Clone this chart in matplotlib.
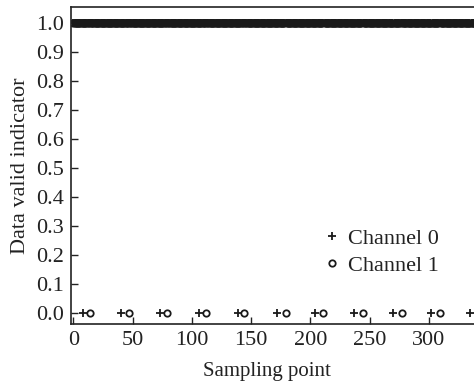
import numpy as np
import matplotlib
matplotlib.use("Agg")
import matplotlib.pyplot as plt

# sampling window and the samples flagged invalid on each channel
n_samples = 340
ch0_invalid = [8, 40, 73, 106, 139, 172, 204, 237, 270, 302, 335]
ch1_invalid = [14, 47, 79, 112, 144, 179, 211, 244, 277, 309]

x_ticks = [0, 50, 100, 150, 200, 250, 300]
y_ticks = [0.0, 0.1, 0.2, 0.3, 0.4, 0.5, 0.6, 0.7, 0.8, 0.9, 1.0]

samples = np.arange(n_samples)
ch0_valid = np.ones(n_samples)
ch0_valid[ch0_invalid] = 0
ch1_valid = np.ones(n_samples)
ch1_valid[ch1_invalid] = 0

plt.rcParams['font.family'] = ['Liberation Serif', 'DejaVu Serif']
plt.rcParams['font.size'] = 16
plt.rcParams['mathtext.fontset'] = 'stix'
ink = '#222222'

fig = plt.figure(figsize=(4.74, 3.83), dpi=100)
ax = fig.add_axes([70.5 / 474, 59 / 383, 1 - 70.5 / 474 + 0.01, (324 - 7) / 383])

ax.plot(samples, ch0_valid, linestyle='none', marker='+', markersize=5.5,
        markeredgewidth=1.3, color='#1a1a1a', label='Channel 0')
ax.plot(samples, ch1_valid, linestyle='none', marker='o', markersize=4.6,
        markeredgewidth=1.3, markerfacecolor='none', color='#1a1a1a',
        label='Channel 1')

ax.set_xlim(-2.4, 342)
ax.set_ylim(-0.038, 1.055)
ax.set_xticks(x_ticks)
ax.set_yticks(y_ticks)
ax.set_yticklabels([f"{v:.1f}" for v in y_ticks])
ax.tick_params(direction='in', length=5, width=1.0, colors=ink,
               labelcolor=ink, pad=5, labelsize=16)
for side in ['left', 'bottom', 'top']:
    ax.spines[side].set_linewidth(1.2)
    ax.spines[side].set_color(ink)
ax.spines['right'].set_visible(False)

ax.set_xlabel('Sampling point', color=ink, fontsize=15)
ax.xaxis.set_label_coords(0.481, -0.12)
ax.set_ylabel('Data valid indicator', color=ink, fontsize=16, labelpad=4)

ax.legend(loc='upper left', bbox_to_anchor=(0.597, 0.33), frameon=False,
          handlelength=0.8, handletextpad=0.3, labelspacing=0.3,
          borderaxespad=0.0, labelcolor=ink, fontsize=16)

fig.savefig("out.png", dpi=100)
